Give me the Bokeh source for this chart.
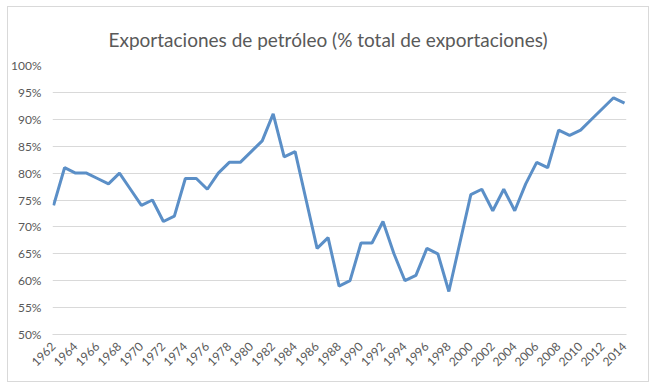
from bokeh.plotting import figure
from bokeh.models import Range1d, FixedTicker, PrintfTickFormatter
from bokeh.embed import file_html
from bokeh.resources import INLINE
import math

years = list(range(1962, 2015))
oil_share = [74, 81, 80, 80, 79, 78, 80, 77, 74, 75,
             71, 72, 79, 79, 77, 80, 82, 82, 84, 86,
             91, 83, 84, 75, 66, 68, 59, 60, 67, 67,
             71, 65, 60, 61, 66, 65, 58, 67, 76, 77,
             73, 77, 73, 78, 82, 81, 88, 87, 88, 90,
             92, 94, 93]
y_ticks = [50, 55, 60, 65, 70, 75, 80, 85, 90, 95, 100]
x_ticks = list(range(1962, 2015, 2))
title_text = "Exportaciones de petróleo (% total de exportaciones)"

FONT = "Lato"
GREY = "#595959"

p = figure(frame_width=574, frame_height=269, output_backend="svg", toolbar_location=None,
           x_range=Range1d(1961.9, 2014.18), y_range=Range1d(50, 100),
           title=title_text,
           min_border_left=40, min_border_right=22, min_border_top=58, min_border_bottom=47)
p.styles = {"border": "1px solid #d9d9d9", "margin-left": "7px", "margin-top": "6px"}
p.title.align = "left"
p.title.text_font = FONT
p.title.text_font_size = "19px"
p.title.text_font_style = "normal"
p.title.text_color = GREY
p.title.offset = 56
p.title.standoff = 30

p.line(years, oil_share, line_color="#5B8FC7", line_width=3)

p.outline_line_color = None
p.xgrid.grid_line_color = None
p.ygrid.grid_line_color = "#d9d9d9"
p.ygrid.ticker = FixedTicker(ticks=y_ticks)

p.yaxis.ticker = FixedTicker(ticks=y_ticks)
p.yaxis.formatter = PrintfTickFormatter(format="%d%%")
p.yaxis.axis_line_color = None
p.yaxis.major_tick_line_color = None
p.yaxis.minor_tick_line_color = None
p.yaxis.major_label_text_font = FONT
p.yaxis.major_label_text_font_size = "12px"
p.yaxis.major_label_text_color = GREY
p.yaxis.major_label_standoff = 5

p.xaxis.ticker = FixedTicker(ticks=x_ticks)
p.xaxis.axis_line_color = "#d9d9d9"
p.xaxis.major_tick_line_color = None
p.xaxis.minor_tick_line_color = None
p.xaxis.major_label_orientation = math.pi / 4
p.xaxis.major_label_text_font = FONT
p.xaxis.major_label_text_font_size = "12px"
p.xaxis.major_label_text_color = GREY
p.xaxis.major_label_standoff = 4

open("out.html", "w").write(file_html(p, INLINE))
